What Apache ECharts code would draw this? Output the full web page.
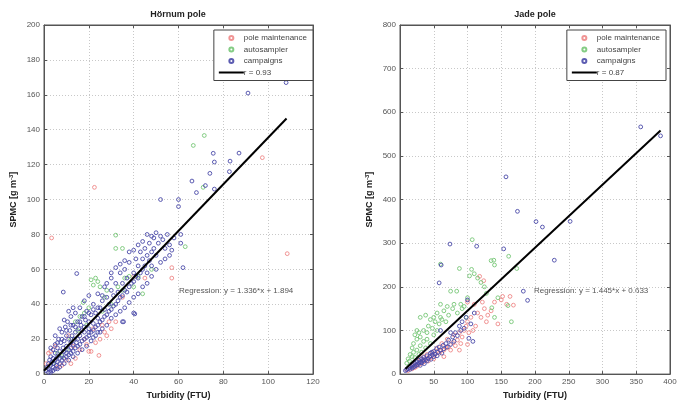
<!DOCTYPE html>
<html>
<head>
<meta charset="utf-8">
<script src="https://cdn.jsdelivr.net/npm/echarts@6/dist/echarts.min.js"></script>
<style>html,body{margin:0;padding:0;background:#fff}#c{width:683px;height:405px}</style>
</head>
<body>
<div id="c"></div>
<script>
// ---------- Hörnum pole (left) ----------
const hornumMaintenance = [[22.5,107],[108.5,69],[3.4,78],[24.5,10.7],[20,13],[21,13],[19,17],[23,18],[25,20],[27,24],[26,28],[28,22],[29,30],[22,26],[18,20],[16,14],[14,9],[12,6],[10,8],[8,5],[6,4],[5,16],[2,12],[3,13],[30,26],[32,30],[57,55],[57,61],[35,44],[40,56],[45,55],[97.4,124],[1,6],[11,22],[13,16]];
const hornumAutosampler = [[66.6,131],[71.5,136.7],[71,107],[32,79.6],[32,72],[35,72],[63,73],[22,51],[23,55],[24,53],[25,50],[21,54],[17.5,41],[44,46],[18,35],[20,38],[27,44],[30,40],[26,36],[33,50],[35,48],[38,56],[40,50],[15,25],[12,20],[10,14],[8,10],[14,30],[6,12],[4,6],[19,28],[28,48],[42,56],[48,60],[36,55],[16,33]];
const hornumCampaigns = [[1,2],[1.5,4],[2,3],[2,6],[2.5,8],[3,2],[3,5],[3,10],[3.5,7],[4,4],[4,9],[4,14],[4.5,6],[5,3],[5,8],[5,12],[5,17],[5.5,5],[6,7],[6,10],[6,15],[6.5,20],[7,6],[7,9],[7,13],[7.5,18],[8,8],[8,11],[8,24],[8.5,15],[9,9],[9,13],[9,19],[9.5,27],[10,10],[10,12],[10,16],[10,22],[10.5,30],[11,11],[11,14],[11,20],[11.5,25],[12,12],[12,15],[12,18],[12,33],[12.5,22],[13,13],[13,17],[13,28],[13.5,20],[14,15],[14,24],[14,35],[14.5,18],[15,16],[15,20],[15,30],[15.5,26],[16,17],[16,22],[16,38],[16.5,28],[17,19],[17,25],[17,33],[18,20],[18,27],[18,42],[18.5,31],[19,21],[19,36],[20,22],[20,26],[20,30],[20,45],[21,24],[21,34],[22,25],[22,29],[22,40],[23,27],[23,35],[24,28],[24,32],[24,46],[25,30],[25,38],[26,31],[26,42],[27,33],[27,37],[27,50],[28,34],[28,44],[29,36],[29,40],[30,37],[30,48],[30,55],[31,39],[31,45],[32,40],[32,52],[33,42],[33,47],[34,44],[34,58],[35,45],[35,30],[35,52],[36,48],[36,60],[37,47],[37,55],[38,50],[38,64],[39,52],[40,53],[40,58],[40,35],[41,56],[41,66],[42,55],[42,62],[43,58],[43,70],[44,60],[44,66],[45,62],[45,72],[46,58],[46,68],[47,65],[47,75],[48,62],[48,70],[49,72],[49,78],[50,81],[50,68],[51,75],[52,79],[52,100],[53,77],[54,72],[55,80],[56,74],[57,71],[58,78],[60,100],[61,80],[61,75],[62,61],[8.6,47],[14.6,57.6],[91,161],[108,167],[75.5,126.5],[76,121.5],[83,122],[87,126.6],[82.7,116],[74,115],[66,110.6],[76,106],[60,96],[68,104],[72,108],[40.5,34.5],[35.5,30],
  [2,1],[3,1],[4,2],[6,3],[7,4],[9,6],[11,8],[13,10],[15,12],[17,14],[19,16],[21,19],[23,22],[25,24],[3,15],[5,22],[7,26],[9,31],[11,36],[13,38],[6,18],[8,20],[10,25],[12,28],[14,27],[16,30],[18,33],[20,35],[22,37],[24,38],[26,45],[28,52],[30,58],[32,61],[34,63],[36,65],[38,70],[40,71],[42,74],[44,76],[46,80],[48,79],[18,24],[20,24],[22,21],[24,24],[26,26],[28,28],[30,32],[32,34],[34,36],[36,38],[38,41],[40,44],[42,46],[44,50],[46,52],[48,56],[50,60],[52,64],[54,66],[56,68]];
const hornumFitX = [0, 108.2];
const hornumFitY = [1.9, 146.4];
const hornumR = 'r = 0.93';
const hornumRegression = 'Regression: y = 1.336*x + 1.894';

// ---------- Jade pole (right) ----------
const jadeMaintenance = [[10,10],[12,8],[15,15],[18,12],[20,20],[22,15],[25,18],[25,30],[28,22],[30,35],[32,25],[35,28],[35,40],[38,32],[40,45],[42,30],[45,38],[48,50],[50,35],[52,45],[55,60],[58,48],[60,52],[62,70],[65,55],[68,60],[70,80],[72,62],[75,55],[78,72],[80,90],[82,65],[85,78],[88,95],[90,70],[92,85],[95,100],[98,110],[100,68],[100,120],[102,95],[105,130],[108,100],[110,160],[112,110],[115,140],[118,224],[120,130],[122,165],[124,214],[125,150],[128,120],[130,135],[135,145],[140,165],[145,115],[150,170],[152,178],[158,160],[163,178],[168,158],[100,165],[88,55],[65,40]];
const jadeAutosampler = [[10,25],[12,35],[14,30],[15,45],[18,40],[18,60],[20,50],[20,70],[22,38],[22,90],[25,55],[25,80],[25,100],[28,45],[28,95],[30,65],[30,85],[30,130],[32,50],[35,75],[35,100],[38,60],[38,135],[40,95],[40,80],[42,110],[45,70],[45,125],[48,105],[50,90],[50,130],[52,120],[55,100],[55,140],[58,115],[60,130],[60,160],[62,125],[65,145],[68,120],[70,155],[72,135],[75,190],[78,150],[80,160],[84,190],[85,140],[88,242],[90,160],[92,150],[95,155],[98,130],[100,175],[103,225],[106,240],[110,230],[115,220],[120,210],[125,200],[128,185],[135,260],[136,152],[139,261],[140,250],[140,130],[145,175],[160,157],[161,270],[173,242],[107,308],[60,252],[165,120]];
const jadeCampaigns = [[8,8],[10,10],[12,12],[14,15],[15,11],[16,18],[18,14],[18,20],[20,16],[20,22],[22,18],[22,25],[24,20],[25,28],[26,22],[28,25],[28,32],[30,20],[30,28],[32,26],[32,35],[34,30],[35,38],[36,24],[38,33],[40,30],[40,42],[42,36],[44,40],[45,48],[46,34],[48,44],[50,40],[50,52],[52,46],[54,58],[55,42],[56,50],[58,62],[60,55],[62,48],[64,66],[65,58],[68,70],[70,62],[72,78],[75,68],[78,85],[80,75],[82,95],[85,88],[88,110],[90,100],[92,120],[95,105],[98,130],[100,170],[102,82],[105,115],[108,75],[110,140],[58,209],[60,100],[47,50],[35,33],[75,95],[74,298],[157,452],[174,373],[201.5,349.5],[211,337],[252,350],[228.6,261],[356.6,566.5],[386,546],[153.6,287],[182.7,190],[189,169],[113.6,293],[61,250]];
const jadeFitX = [8, 386];
const jadeFitY = [12.2, 558.4];
const jadeR = 'r = 0.87';
const jadeRegression = 'Regression: y = 1.445*x + 0.633';

// ---------- axes ----------
const hornumXTicks = {min: 0, max: 120, interval: 20};
const hornumYTicks = {min: 0, max: 200, interval: 20};
const jadeXTicks = {min: 0, max: 400, interval: 50};
const jadeYTicks = {min: 0, max: 800, interval: 100};

const seriesNames = ['pole maintenance', 'autosampler', 'campaigns'];
const colors = ['#ee8888', '#77c777', '#4a4aa8'];
const FONT = 'Liberation Sans, Arial, sans-serif';

const chart = echarts.init(document.getElementById('c'), null, {renderer: 'canvas'});

function xAxis(idx, t, mirror) {
  return {
    type: 'value', gridIndex: idx, min: t.min, max: t.max, interval: t.interval,
    position: mirror ? 'top' : 'bottom',
    name: mirror ? '' : 'Turbidity (FTU)', nameLocation: 'middle', nameGap: 12,
    nameTextStyle: {fontFamily: FONT, fontSize: 9, fontWeight: 'bold', color: '#222'},
    axisLine: {show: true, onZero: false, lineStyle: {color: '#555', width: 1}},
    axisTick: {show: true, inside: true, length: 3, lineStyle: {color: '#555'}},
    axisLabel: {show: !mirror, fontFamily: FONT, fontSize: 8, color: '#555', margin: 4},
    splitLine: {show: !mirror, lineStyle: {color: '#c8c8c8', type: [1, 2], width: 1}}
  };
}
function yAxis(idx, t, gap, mirror) {
  return {
    type: 'value', gridIndex: idx, min: t.min, max: t.max, interval: t.interval,
    position: mirror ? 'right' : 'left',
    name: mirror ? '' : '{a|SPMC [g m}{s|-3}{a|]}', nameLocation: 'middle', nameGap: gap, nameRotate: 90,
    nameTextStyle: {rich: {
      a: {fontFamily: FONT, fontSize: 9, fontWeight: 'bold', color: '#222'},
      s: {fontFamily: FONT, fontSize: 6, fontWeight: 'bold', color: '#222', padding: [0, 0, 6, 0]}
    }},
    axisLine: {show: true, onZero: false, lineStyle: {color: '#555', width: 1}},
    axisTick: {show: true, inside: true, length: 3, lineStyle: {color: '#555'}},
    axisLabel: {show: !mirror, fontFamily: FONT, fontSize: 8, color: '#555', margin: 4},
    splitLine: {show: !mirror, lineStyle: {color: '#c8c8c8', type: [1, 2], width: 1}}
  };
}
function scatter(name, data, idx, ci) {
  return {
    type: 'scatter', name: name, data: data, xAxisIndex: idx, yAxisIndex: idx,
    symbol: 'circle', symbolSize: 3.8,
    itemStyle: {color: 'rgba(255,255,255,0)', borderColor: colors[ci], borderWidth: 1, opacity: 0.9},
    emphasis: {disabled: true}, z: 2
  };
}
function fitLine(name, xs, ys, idx) {
  return {
    type: 'line', name: name, data: xs.map((x, i) => [x, ys[i]]), xAxisIndex: idx, yAxisIndex: idx,
    symbol: 'none', lineStyle: {color: '#000', width: 2}, itemStyle: {color: 'rgba(0,0,0,0)', borderWidth: 0}, z: 5
  };
}
function legend(names, right) {
  return {
    orient: 'vertical', right: right, top: 30,
    data: names.map((n, i) => i === 3 ? {name: n, itemStyle: {opacity: 0}} : n),
    itemWidth: 25, itemHeight: 4, itemGap: 3.5, padding: [4, 6, 4, 4],
    backgroundColor: '#fff', borderColor: '#444', borderWidth: 1,
    textStyle: {fontFamily: FONT, fontSize: 8, color: '#444', padding: [0, 0, 0, -5]},
    selectedMode: false
  };
}

chart.setOption({
  animation: false,
  backgroundColor: '#fff',
  grid: [
    {left: 44, right: 683 - 313, top: 25, bottom: 26, show: true, borderColor: '#555', borderWidth: 1, backgroundColor: '#fff'},
    {left: 400, right: 683 - 670, top: 25, bottom: 26, show: true, borderColor: '#555', borderWidth: 1, backgroundColor: '#fff'}
  ],
  xAxis: [xAxis(0, hornumXTicks, false), xAxis(1, jadeXTicks, false), xAxis(0, hornumXTicks, true), xAxis(1, jadeXTicks, true)],
  yAxis: [yAxis(0, hornumYTicks, 24, false), yAxis(1, jadeYTicks, 24, false), yAxis(0, hornumYTicks, 24, true), yAxis(1, jadeYTicks, 24, true)],
  legend: [
    legend([...seriesNames, hornumR], 683 - 313),
    legend([...seriesNames, jadeR], 683 - 666)
  ],
  series: [
    scatter(seriesNames[0], hornumMaintenance, 0, 0),
    scatter(seriesNames[1], hornumAutosampler, 0, 1),
    scatter(seriesNames[2], hornumCampaigns, 0, 2),
    fitLine(hornumR, hornumFitX, hornumFitY, 0),
    scatter(seriesNames[0], jadeMaintenance, 1, 0),
    scatter(seriesNames[1], jadeAutosampler, 1, 1),
    scatter(seriesNames[2], jadeCampaigns, 1, 2),
    fitLine(jadeR, jadeFitX, jadeFitY, 1)
  ],
  graphic: [
    {type: 'text', x: 178, y: 15, style: {text: 'Hörnum pole', font: 'bold 9px ' + FONT, fill: '#222', align: 'center', verticalAlign: 'middle'}},
    {type: 'text', x: 535, y: 15, style: {text: 'Jade pole', font: 'bold 9px ' + FONT, fill: '#222', align: 'center', verticalAlign: 'middle'}},
    {type: 'text', x: 179, y: 291, style: {text: hornumRegression, font: '8px ' + FONT, fill: '#555', align: 'left', verticalAlign: 'middle'}},
    {type: 'text', x: 534, y: 291, style: {text: jadeRegression, font: '8px ' + FONT, fill: '#555', align: 'left', verticalAlign: 'middle'}}
  ]
});
</script>
</body>
</html>
